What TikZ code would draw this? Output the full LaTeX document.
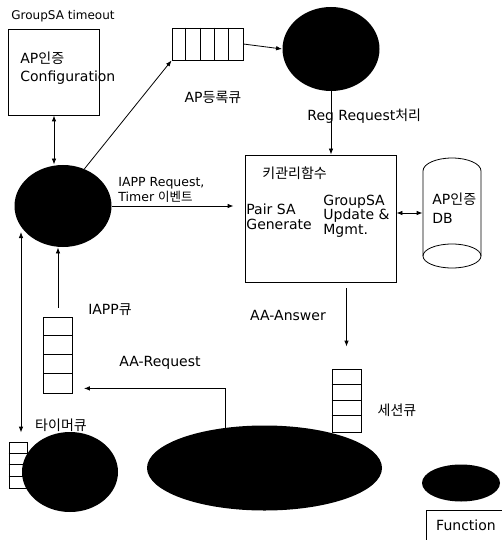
\documentclass[tikz,border=0pt]{standalone}
\usepackage{fontspec}
\setmainfont{DejaVu Sans}
\newfontfamily\kr{Noto Sans CJK KR}
\usetikzlibrary{positioning,arrows.meta,shapes.geometric}

\tikzset{
  blob/.style={ellipse, fill=black, inner sep=0pt},
  box/.style={draw, inner sep=0pt},
  lbl/.style={inner sep=0pt, font=\fontsize{14}{14.5}\selectfont},
  slbl/.style={inner sep=0pt, font=\fontsize{12}{15}\selectfont},
}

\begin{document}
\begin{tikzpicture}[x=1pt, y=-1pt, line width=0.8pt, >={Latex[length=6pt,width=4.5pt]}]
\useasboundingbox (0,0) rectangle (501,540);
% configuration box
\node[slbl, anchor=west] (tout) at (11,16) {GroupSA timeout};
\node[box, minimum width=91pt, minimum height=86pt] (cfg) at (54,72) {};
\node[lbl, anchor=west, align=left, font=\fontsize{14}{18}\selectfont] (cfgtxt) at (20,68) {AP{\kr 인증}\\Configuration};
% AP registration queue
\node[box, minimum width=71pt, minimum height=32pt] (regq) at (207.5,44) {};
\foreach \i in {1,...,4}
  \draw ([xshift=\i*14.2pt]regq.north west) -- ([xshift=\i*14.2pt]regq.south west);
\node[lbl] (regqtxt) at (213,97) {AP{\kr 등록큐}};
\node[blob, minimum width=97pt, minimum height=84pt] (regc) at (331,49) {};
\node[lbl, anchor=west] (regtxt) at (307,116) {Reg Request{\kr 처리}};
% key management
\node[box, minimum width=151pt, minimum height=127pt] (keyf) at (320.5,218.5) {};
\node[lbl, anchor=west] (keytxt) at (262,173) {\kr 키관리함수};
\node[lbl, anchor=west, align=left] (pairtxt) at (246,217) {Pair SA\\Generate};
\node[lbl, anchor=west, align=left] (grptxt) at (323,216) {GroupSA\\Update \&\\Mgmt.};
% DB
\node[minimum width=58pt, minimum height=110pt, inner sep=0pt] (apdb) at (452,213) {};
\draw (423,171) arc[start angle=180, end angle=360, x radius=29, y radius=13] -- (481,256)
      (423,171) -- (423,256);
\draw (452,256) ellipse[x radius=29, y radius=12];
\node[lbl, anchor=west, align=left, font=\fontsize{14}{19}\selectfont] (dbtxt) at (432,208) {AP{\kr 인증}\\DB};
\draw[<->] (apdb.west -| keyf.east) -- (apdb.west);
% main process
\node[blob, minimum width=97pt, minimum height=82pt] (proc) at (63,206) {};
\draw[<->] (cfg.south) -- (cfg.south |- proc.north);
\draw[->] (proc.60) -- (regq.south west);
\draw[->] (regq.east) -- (regc.west);
\draw[->] (regc.south) -- (regc.south |- keyf.north);
\node[lbl, anchor=west, align=left, font=\fontsize{12.5}{15}\selectfont] (iapptxt) at (118,190) {IAPP Request,\\Timer {\kr 이벤트}};
\draw[->, shorten >=11pt] (proc.east) -- (proc.east -| keyf.west);
% IAPP queue
\node[box, minimum width=29pt, minimum height=76pt] (iappq) at (58,355) {};
\foreach \i in {1,2,3}
  \draw ([yshift=-\i*19pt]iappq.north west) -- ([yshift=-\i*19pt]iappq.north east);
\draw[->, shorten <=9pt] (iappq.north) -- (iappq.north |- proc.south);
\node[lbl] (iappqtxt) at (110,310) {IAPP{\kr 큐}};
% timer
\node[box, minimum width=18pt, minimum height=46pt] (tq) at (18,465) {};
\foreach \i in {1,2,3}
  \draw ([yshift=-\i*11.5pt]tq.north west) -- ([yshift=-\i*11.5pt]tq.north east);
\node[blob, minimum width=96pt, minimum height=80pt] (tmr) at (70,472) {};
\node[lbl] (tqtxt) at (61,425) {\kr 타이머큐};
\coordinate (tin) at (21,232);
\draw[<->, shorten >=9pt] (tin) -- (tin |- tq.north);
% session
\node[box, minimum width=29pt, minimum height=63pt] (sq) at (346.5,400.5) {};
\foreach \i in {1,2,3}
  \draw ([yshift=-\i*15.75pt]sq.north west) -- ([yshift=-\i*15.75pt]sq.north east);
\node[blob, minimum width=235pt, minimum height=85pt] (sess) at (264.5,468) {};
\node[lbl] (sqtxt) at (397,410) {\kr 세션큐};
\draw[->, shorten <=6pt, shorten >=22pt] (keyf.south -| sq.north) -- (sq.north);
\node[lbl] (anstxt) at (288,315) {AA-Answer};
\coordinate (aareq) at ([xshift=11pt,yshift=5pt]iappq.south east);
\draw[->] (sess.134) |- (aareq);
\node[lbl] (reqtxt) at (160,363) {AA-Request};
% legend
\node[blob, minimum width=78pt, minimum height=37pt] (fn) at (461,483) {};
\node[box, minimum width=86pt, minimum height=36pt, anchor=north west] (fnbox) at (426,510) {};
\node[lbl] (fntxt) at (466,525) {Function};
\end{tikzpicture}
\end{document}
